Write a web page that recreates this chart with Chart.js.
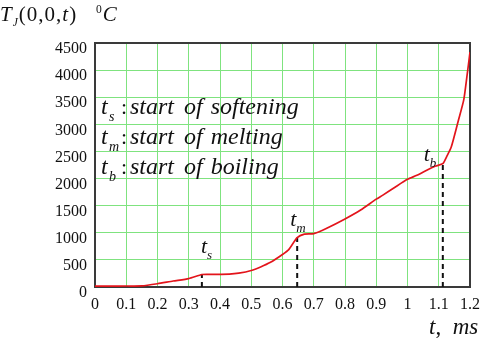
<!DOCTYPE html>
<html lang="en">
<head>
<meta charset="utf-8">
<script src="https://cdn.jsdelivr.net/npm/chart.js@4"></script>
<style>
  body { margin: 0; background: #fff; font-family: 'Times New Roman', 'Liberation Serif', serif; }
  #wrap { width: 488px; height: 338px; position: relative; }
  .titulo { position: absolute; color: #111; white-space: nowrap; line-height: 1; }
  .titulo i { font-style: italic; }
  .titulo sub, .titulo sup { font-size: 0.55em; line-height: 0; }
  #tituloY { left: 0; top: 4px; font-size: 21px; letter-spacing: 1px; }
  #tituloX { left: 429px; top: 315px; font-size: 23px; }
</style>
</head>
<body>
<div id="wrap">
  <canvas id="grafico"></canvas>
  <div class="titulo" id="tituloY"><i>T</i><sub><i>J</i></sub>(0,0,<i>t</i>)&nbsp;&nbsp;&nbsp;<sup>0</sup><i>C</i></div>
  <div class="titulo" id="tituloX"><i>t</i>,&nbsp;&nbsp;<i>ms</i></div>
</div>
<script>
// curva de temperatura T_J(0,0,t) en grados C, tiempo en ms
const timeMs = [0, 0.05, 0.1, 0.15, 0.2, 0.25, 0.3, 0.342, 0.36, 0.4, 0.43, 0.46, 0.5, 0.53, 0.56, 0.6, 0.62, 0.647,
  0.67, 0.7, 0.74, 0.8, 0.85, 0.9, 0.92, 0.96, 1.0, 1.03, 1.06, 1.09, 1.113, 1.125, 1.14, 1.163, 1.18, 1.19, 1.2];
const tempC = [15, 15, 18, 20, 60, 110, 155, 230, 234, 234, 236, 255, 305, 370, 450, 600, 690, 910,
  975, 985, 1080, 1255, 1420, 1620, 1690, 1840, 1985, 2060, 2150, 2230, 2275, 2400, 2580, 3075, 3450, 3875, 4330];

// marcas: ablandamiento, fusion, ebullicion
const markerTimes = [0.342, 0.647, 1.113];
const markerTemps = [230, 910, 2275];
const markerSubs = ['s', 'm', 'b'];
const legendLines = [
  ['start', 'of', 'softening'],
  ['start', 'of', 'melting'],
  ['start', 'of', 'boiling']
];

const xTicks = [0, 0.1, 0.2, 0.3, 0.4, 0.5, 0.6, 0.7, 0.8, 0.9, 1, 1.1, 1.2];
const yTicks = [0, 500, 1000, 1500, 2000, 2500, 3000, 3500, 4000, 4500];

const SERIF = "'Times New Roman', 'Liberation Serif', serif";
Chart.defaults.font.family = SERIF;

function texto(ctx, str, x, y, size, italic) {
  ctx.font = (italic ? 'italic ' : '') + size + 'px ' + SERIF;
  ctx.fillText(str, x, y);
  return x + ctx.measureText(str).width;
}

const textos = {
  id: 'textos',
  beforeDatasetsDraw(chart) {
    const { ctx, chartArea: a } = chart;
    ctx.save();
    ctx.strokeStyle = '#3a3a3a';
    ctx.lineWidth = 2;
    ctx.strokeRect(a.left, a.top, a.right - a.left, a.bottom - a.top);
    ctx.restore();
  },
  afterDraw(chart) {
    const ctx = chart.ctx;
    const xs = chart.scales.x, ys = chart.scales.y;
    ctx.save();
    ctx.fillStyle = '#111';
    ctx.textBaseline = 'alphabetic';
    ctx.textAlign = 'left';

    // leyenda
    const base = [114, 144, 174];
    legendLines.forEach((words, i) => {
      const b = base[i];
      texto(ctx, 't', 101, b, 24, true);
      texto(ctx, markerSubs[i], 109, b + 7, 14, true);
      texto(ctx, ':', 121, b, 22, false);
      let x = texto(ctx, words[0], 130, b, 24, true);
      x = texto(ctx, words[1], x + 10, b, 24, true);
      texto(ctx, words[2], x + 8, b, 24, true);
    });

    // etiquetas de las marcas
    markerTimes.forEach((t, i) => {
      const px = xs.getPixelForValue(t);
      const py = ys.getPixelForValue(markerTemps[i]);
      let lx = px - 1, ly = py - 22;
      if (i === 1) { lx = px - 7; ly = py - 12; }
      if (i === 2) { lx = px - 19; ly = py - 3; }
      texto(ctx, 't', lx, ly, 22, true);
      texto(ctx, markerSubs[i], lx + 6, ly + 6, 13, true);
    });
    ctx.restore();
  }
};

const datasets = [{
  data: timeMs.map((t, i) => ({ x: t, y: tempC[i] })),
  borderColor: '#e3141b',
  borderWidth: 1.7,
  pointRadius: 0,
  tension: 0.2,
  order: 0
}];
markerTimes.forEach((t, i) => {
  datasets.push({
    data: [{ x: t, y: 0 }, { x: t, y: markerTemps[i] }],
    borderColor: '#111',
    borderWidth: 2,
    borderDash: [5, 4],
    pointRadius: 0,
    order: 1
  });
});

new Chart(document.getElementById('grafico'), {
  type: 'line',
  data: { datasets },
  options: {
    responsive: true,
    maintainAspectRatio: false,
    animation: false,
    layout: { padding: { left: 0, right: 13, top: 43, bottom: 26 } },
    plugins: { legend: { display: false }, tooltip: { enabled: false } },
    scales: {
      x: {
        type: 'linear',
        min: 0, max: 1.2,
        afterBuildTicks: s => { s.ticks = xTicks.map(v => ({ value: v })); },
        afterFit: s => { s.height = 25; },
        grid: { color: '#7fe37f', lineWidth: 1, drawTicks: false },
        border: { display: false },
        ticks: {
          padding: 8,
          color: '#111',
          font: { size: 16 },
          maxRotation: 0,
          callback: v => String(Math.round(v * 10) / 10)
        }
      },
      y: {
        min: 0, max: 4500,
        afterBuildTicks: s => { s.ticks = yTicks.map(v => ({ value: v })); },
        afterFit: s => { s.width = 95; },
        grid: { color: '#7fe37f', lineWidth: 1, drawTicks: false },
        border: { display: false },
        ticks: {
          padding: 8,
          labelOffset: 6,
          color: '#111',
          font: { size: 16 },
          callback: v => String(v)
        }
      }
    }
  },
  plugins: [textos]
});
</script>
</body>
</html>
